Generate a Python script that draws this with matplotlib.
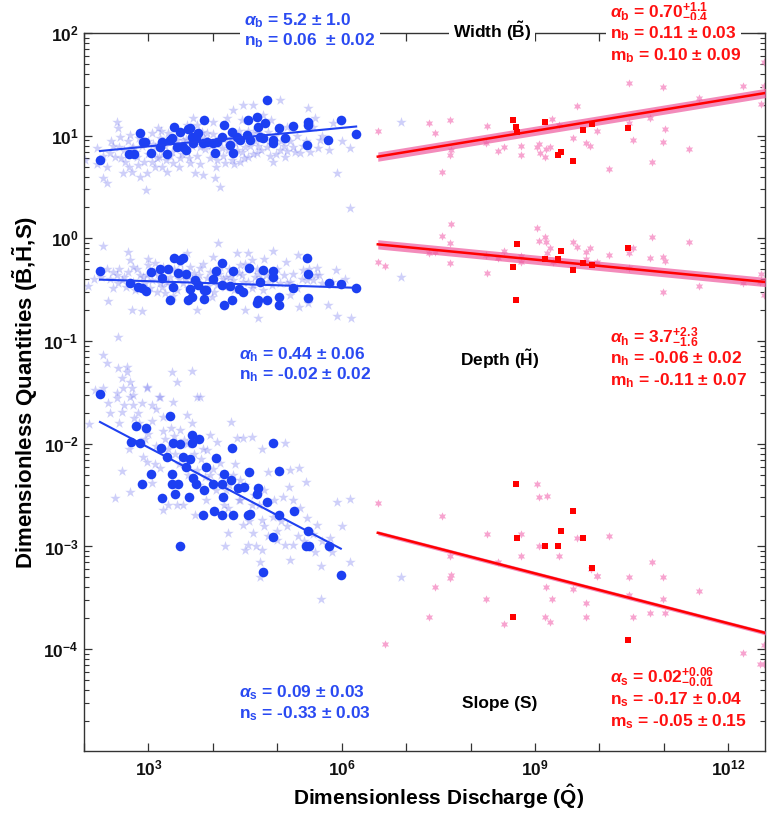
import numpy as np
import matplotlib
matplotlib.use('Agg')
import matplotlib.pyplot as plt
from matplotlib.ticker import FixedLocator, FuncFormatter, NullLocator

plt.rcParams['font.family'] = ['Liberation Sans', 'DejaVu Sans']
plt.rcParams['font.weight'] = 'bold'
plt.rcParams['mathtext.fontset'] = 'custom'
plt.rcParams['mathtext.rm'] = 'Liberation Sans:bold'
plt.rcParams['mathtext.it'] = 'Liberation Sans:bold:italic'
plt.rcParams['mathtext.bf'] = 'Liberation Sans:bold'
plt.rcParams['mathtext.sf'] = 'Liberation Sans:bold'

# ---------------- data (log10 Q, log10 value) ----------------
width_circles = [(2.248,0.763),(2.704,0.822),(2.776,0.822),(2.870,1.023),(2.911,0.942),(2.947,0.942),
    (3.035,0.835),(3.180,0.893),(3.206,0.942),(3.294,0.822),(3.335,0.958),(3.361,0.974),
    (3.403,1.088),(3.439,0.893),(3.491,1.039),(3.542,0.893),(3.584,0.861),(3.620,1.062),
    (3.646,1.072),(3.672,0.991),(3.698,0.926),(3.739,0.974),(3.775,1.023),(3.853,0.926),
    (3.863,1.153),(3.905,0.942),(3.998,0.932),(4.034,0.835),(4.060,0.942),(4.138,0.984),
    (4.179,1.104),(4.267,0.909),(4.293,1.039),(4.319,0.828),(4.381,0.991),(4.422,0.958),
    (4.526,1.007),(4.552,1.153),(4.578,0.958),(4.681,1.185),(4.707,1.088),(4.733,0.991),
    (4.774,0.974),(4.811,1.120),(4.847,1.348),(4.930,0.926),(4.940,0.958),(5.033,1.072),
    (5.121,0.974),(5.240,1.094),(5.458,0.909),(5.483,1.137),(5.483,1.104),(5.794,0.958),
    (5.986,1.153),(6.224,1.017)]

width_stars = [(2.016,0.763),(2.300,0.585),(2.352,0.536),(2.507,1.137),(2.533,1.072),(2.559,0.991),
    (2.549,0.893),(2.481,0.796),(2.611,0.633),(2.637,0.747),(2.714,1.007),(2.740,0.650),(2.766,0.893),
    (2.844,0.715),(2.870,0.601),(2.958,0.471),(2.973,0.633),(3.051,1.023),(3.051,0.747),(3.102,0.893),
    (3.154,1.072),(3.170,0.796),(3.206,0.698),(3.294,0.650),(3.309,1.023),(3.361,0.844),(3.387,0.731),
    (3.491,0.780),(3.542,0.958),(3.605,0.844),(3.646,0.731),(3.698,1.169),(3.724,0.633),(3.750,1.104),
    (3.801,0.893),(3.853,0.617),(3.915,1.023),(3.956,0.780),(4.008,1.137),(4.034,0.585),(4.060,0.763),
    (4.112,0.504),(4.138,0.877),(4.189,0.731),(4.215,1.169),(4.293,0.763),(4.319,1.250),(4.371,0.861),
    (4.422,0.747),(4.474,1.299),(4.500,0.893),(4.552,0.796),(4.629,1.299),(4.681,0.828),(4.707,1.023),
    (4.785,1.201),(4.836,0.893),(4.940,0.747),(5.043,1.348),(5.043,0.861),(5.121,0.796),(5.147,1.088),
    (5.276,0.844),(5.354,0.828),(5.473,1.266),(5.509,0.844),(5.587,1.169),(5.639,0.877),(5.665,0.958),
    (5.923,0.633),(6.130,0.877),(2.197,0.877),(2.404,0.828),(2.818,0.796),(3.232,0.844),(3.439,0.958),
    (3.827,1.039),(4.215,0.942),(4.629,1.023),(4.862,1.039),(5.251,0.893),(5.561,1.088),(5.872,1.120),
    (6.918,1.130),(2.450,0.900),(2.620,0.860),(2.680,0.950),(2.800,0.840),(2.900,0.900),(2.990,0.820),
    (3.070,0.920),(3.130,0.780),(3.250,0.900),(3.340,0.800),(3.450,0.880),(3.520,0.820),(3.580,0.970),
    (3.670,0.900),(3.760,0.800),(3.880,0.870),(3.930,0.950),(4.020,0.830),(4.100,0.970),(4.240,0.860),
    (4.350,0.930),(4.450,0.840),(4.580,0.900),(4.660,0.950),(4.750,0.860),(4.900,0.920),(4.980,0.820),
    (5.100,0.900),(5.200,0.950),(5.400,0.900),
    (2.30,0.80),(2.36,0.70),(2.42,0.95),(2.58,0.78),(2.70,0.70),(2.74,0.88),(2.85,0.98),(2.93,0.74),
    (3.00,0.95),(3.10,0.70),(3.18,0.98),(3.28,0.76),(3.38,0.95),(3.47,0.70),(3.56,0.88),(3.63,0.78),
    (3.72,0.96),(3.80,0.72),(3.86,0.98),(3.97,0.90),(4.05,0.70),(4.16,0.80),(4.28,0.98),(4.33,0.72),
    (4.40,1.05),(4.48,0.78),(4.55,1.05),(4.62,0.82),(4.70,0.90),(4.80,0.98),(4.88,0.80),(4.96,1.00),
    (5.05,0.95),(5.15,0.85),(5.30,1.00),(5.45,0.95),(5.70,1.00),(5.80,0.86),(6.00,0.95),(3.20,1.05),
    (3.60,1.10),(4.00,1.02),(4.45,1.15),(4.90,1.15),(2.20,0.72)]

depth_circles = [(2.248,-0.318),(2.714,-0.438),(2.844,-0.470),(2.895,-0.486),(2.958,-0.509),(3.040,-0.324),
    (3.180,-0.301),(3.206,-0.389),(3.299,-0.301),(3.335,-0.600),(3.377,-0.477),(3.403,-0.194),
    (3.465,-0.340),(3.491,-0.211),(3.532,-0.194),(3.584,-0.347),(3.620,-0.600),(3.646,-0.496),
    (3.672,-0.568),(3.724,-0.405),(3.775,-0.454),(3.863,-0.594),(3.863,-0.503),(3.894,-0.503),
    (4.008,-0.399),(4.045,-0.318),(4.138,-0.236),(4.143,-0.454),(4.179,-0.649),(4.267,-0.464),
    (4.293,-0.600),(4.319,-0.318),(4.412,-0.496),(4.474,-0.519),(4.562,-0.292),(4.681,-0.633),
    (4.707,-0.600),(4.733,-0.421),(4.785,-0.308),(4.836,-0.600),(4.940,-0.314),(4.940,-0.373),
    (5.033,-0.568),(5.033,-0.649),(5.251,-0.486),(5.458,-0.194),(5.483,-0.347),(5.483,-0.584),
    (5.804,-0.438),(5.986,-0.448),(6.224,-0.486)]

depth_stars = [(2.067,-0.464),(2.300,-0.074),(2.378,-0.607),(2.455,-0.324),(2.533,-0.438),(2.585,-0.405),
    (2.678,-0.129),(2.688,-0.324),(2.714,-0.211),(2.740,-0.697),(2.766,-0.275),(2.792,-0.503),
    (2.895,-0.707),(2.947,-0.438),(2.999,-0.259),(3.051,-0.405),(3.102,-0.243),(3.128,-0.519),
    (3.206,-0.470),(3.258,-0.535),(3.335,-0.373),(3.439,-0.503),(3.491,-0.243),(3.605,-0.146),
    (3.646,-0.275),(3.750,-0.697),(3.801,-0.292),(3.905,-0.389),(3.982,-0.568),(4.086,-0.048),
    (4.112,-0.275),(4.189,-0.470),(4.267,-0.373),(4.371,-0.146),(4.422,-0.259),(4.474,-0.421),
    (4.500,-0.697),(4.552,-0.146),(4.604,-0.211),(4.655,-0.373),(4.707,-0.779),(4.785,-0.503),
    (4.862,-0.421),(4.930,-0.120),(5.043,-0.438),(5.137,-0.227),(5.199,-0.551),(5.328,-0.162),
    (5.344,-0.665),(5.406,-0.308),(5.483,-0.633),(5.561,-0.405),(5.613,-0.292),(5.794,-0.649),
    (5.913,-0.308),(5.923,-0.756),(6.141,-0.772),(2.259,-0.373),(2.507,-0.357),(2.870,-0.357),
    (3.180,-0.438),(3.542,-0.438),(3.801,-0.438),(4.060,-0.454),(4.319,-0.405),(4.629,-0.454),
    (4.888,-0.324),(5.147,-0.438),(5.458,-0.405),(5.690,-0.438),(6.130,0.293),(6.918,-0.373),
    (2.400,-0.400),(2.620,-0.380),(2.760,-0.420),(2.980,-0.360),(3.080,-0.330),(3.300,-0.420),
    (3.400,-0.300),(3.580,-0.400),(3.700,-0.340),(3.950,-0.330),(4.200,-0.380),(4.400,-0.340),
    (4.540,-0.420),(4.700,-0.350),(4.960,-0.400),(5.250,-0.350),(5.600,-0.360),
    (2.15,-0.40),(2.35,-0.30),(2.45,-0.48),(2.55,-0.30),(2.65,-0.47),(2.82,-0.30),(2.92,-0.38),
    (3.02,-0.48),(3.15,-0.35),(3.22,-0.28),(3.28,-0.42),(3.38,-0.56),(3.47,-0.40),(3.52,-0.32),
    (3.62,-0.48),(3.68,-0.40),(3.78,-0.36),(3.85,-0.25),(3.92,-0.46),(4.02,-0.52),(4.10,-0.35),
    (4.15,-0.40),(4.25,-0.30),(4.33,-0.50),(4.45,-0.36),(4.50,-0.25),(4.60,-0.48),(4.68,-0.30),
    (4.75,-0.40),(4.82,-0.36),(4.92,-0.45),(5.00,-0.30),(5.10,-0.36),(5.20,-0.42),(5.30,-0.48),
    (5.38,-0.40),(5.50,-0.30),(5.65,-0.36),(5.85,-0.42),(6.05,-0.40),(3.00,-0.20),(4.00,-0.18),
    (4.80,-0.20)]

slope_circles = [(2.248,-1.515),(2.807,-1.827),(2.958,-1.850),(2.725,-1.980),(2.870,-1.996),(3.190,-2.041),
    (3.335,-1.726),(3.294,-2.126),(3.377,-1.996),(3.491,-2.006),(3.035,-2.298),(2.906,-2.395),
    (3.216,-2.531),(3.371,-2.295),(3.371,-2.392),(3.465,-2.392),(3.413,-2.489),(3.630,-2.515),
    (3.542,-2.132),(3.646,-2.148),(3.672,-1.996),(3.682,-1.915),(3.791,-1.957),(3.584,-2.223),
    (3.698,-2.330),(3.739,-2.392),(3.863,-2.450),(3.889,-2.229),(3.853,-2.694),(3.491,-2.992),
    (3.998,-2.392),(4.024,-2.652),(4.045,-2.142),(4.138,-2.392),(4.143,-2.694),(4.153,-2.515),
    (4.174,-2.295),(4.293,-2.041),(4.278,-2.353),(4.319,-2.694),(4.386,-2.434),(4.490,-2.424),
    (4.557,-2.272),(4.552,-2.694),(4.578,-2.685),(4.681,-2.489),(4.707,-2.434),(4.836,-2.564),
    (4.940,-1.996),(4.940,-2.911),(5.028,-2.694),(5.033,-2.262),(5.256,-2.652),(5.483,-2.846),
    (5.447,-2.992),(5.488,-2.992),(5.804,-2.992),(4.785,-3.252),(5.986,-3.278)]

slope_stars = [(2.533,-0.957),(2.300,-1.136),(2.352,-1.217),(2.533,-1.265),(2.663,-1.249),(2.663,-1.298),
    (2.585,-1.363),(2.714,-1.395),(2.740,-1.459),(2.973,-1.459),(3.361,-1.298),(3.449,-1.395),
    (3.672,-1.288),(2.171,-1.475),(2.300,-1.459),(2.507,-1.508),(3.180,-1.540),(3.750,-1.540),
    (2.766,-1.524),(2.083,-1.808),(2.378,-1.606),(2.507,-1.558),(2.611,-1.460),(2.585,-1.687),
    (2.714,-1.541),(2.766,-1.623),(2.844,-1.704),(2.973,-1.444),(3.051,-1.623),(3.118,-1.665),
    (3.170,-1.541),(3.232,-1.736),(3.387,-1.590),(3.491,-1.866),(3.594,-1.720),(3.672,-1.801),
    (3.801,-1.541),(3.956,-1.915),(4.060,-1.980),(4.278,-1.785),(4.371,-1.947),(4.474,-1.947),
    (4.604,-1.931),(4.759,-2.051),(5.121,-1.996),(5.344,-2.239),(5.199,-2.255),(5.189,-2.418),
    (5.447,-2.369),(2.481,-2.531),(2.714,-2.467),(2.585,-2.262),(2.973,-2.174),(3.051,-2.385),
    (2.911,-2.126),(3.180,-2.239),(3.309,-2.596),(3.232,-2.645),(3.542,-2.596),(3.724,-2.694),
    (3.750,-2.255),(3.879,-2.320),(3.915,-2.064),(4.112,-2.191),(4.241,-2.629),(4.241,-2.872),
    (4.422,-2.353),(4.474,-2.791),(4.552,-2.985),(4.629,-2.872),(4.759,-2.739),(4.733,-3.148),
    (4.666,-2.992),(4.759,-3.031),(4.862,-2.272),(4.940,-2.710),(5.095,-2.515),(5.121,-2.985),
    (5.199,-3.132),(5.251,-2.985),(5.354,-2.629),(5.458,-2.726),(5.587,-3.051),(5.613,-2.791),
    (5.675,-3.187),(5.820,-2.921),(5.923,-2.564),(6.130,-2.541),(6.130,-3.148),(4.189,-2.992),
    (4.500,-3.031),(4.992,-2.937),(4.733,-3.294),(5.675,-3.515),(6.918,-3.301),
    (3.000,-1.900),(3.250,-1.950),(3.420,-2.100),(3.600,-2.000),(3.820,-2.150),(4.000,-2.250),
    (4.200,-2.450),(4.400,-2.550),(4.600,-2.600),(4.800,-2.800),(5.000,-2.850),(3.350,-1.850),
    (3.900,-2.550),(4.350,-2.200),(2.850,-1.800),
    (2.40,-1.70),(2.55,-1.80),(2.62,-1.62),(2.78,-1.75),(2.90,-1.60),(2.95,-1.95),(3.05,-1.78),
    (3.12,-2.02),(3.22,-1.88),(3.30,-2.05),(3.40,-1.92),(3.48,-2.20),(3.55,-1.96),(3.62,-2.30),
    (3.70,-2.10),(3.78,-2.40),(3.85,-2.05),(3.95,-2.30),(4.05,-2.45),(4.12,-2.30),(4.18,-2.60),
    (4.25,-2.40),(4.32,-2.30),(4.42,-2.55),(4.50,-2.40),(4.56,-2.75),(4.64,-2.50),(4.72,-2.60),
    (4.80,-2.45),(4.86,-2.90),(4.95,-2.55),(5.05,-2.75),(5.15,-2.80),(5.25,-2.55),(5.32,-2.90),
    (5.42,-2.95),(5.55,-2.88),(5.70,-2.95),(5.85,-3.05),(6.00,-2.80),(3.10,-2.20),(3.45,-2.60),
    (2.70,-2.05)]

red_sq_logq = [8.651, 8.698, 8.724, 9.148, 9.355, 9.396, 9.583, 9.748, 9.888, 10.437]
red_sq_width = [1.153, 1.088, 1.039, 1.130, 0.812, 0.838, 0.754, 1.059, 1.117, 1.078]
red_sq_depth = [-0.279, -0.600, -0.058, -0.201, -0.201, -0.123, -0.305, -0.243, -0.262, -0.097]
red_sq_slope = [-3.690, -2.392, -2.914, -2.992, -2.992, -2.846, -2.652, -2.914, -3.213, -3.911]

pink_width = [(6.560,1.049),(7.357,1.127),(7.450,1.029),(7.683,1.153),(7.693,0.861),(7.683,0.812),
    (7.554,0.650),(8.250,1.098),(8.242,0.932),(8.424,0.854),(8.522,0.893),(8.781,0.900),(8.781,0.812),
    (9.029,0.893),(9.066,0.919),(9.071,0.835),(9.159,0.796),(9.169,0.867),(9.236,0.893),(9.262,1.159),
    (9.365,1.104),(9.588,0.974),(9.650,1.292),(9.790,0.926),(9.857,0.903),(9.961,1.049),(10.142,0.676),
    (10.453,1.516),(10.453,1.120),(10.520,0.955),(10.789,1.169),(10.815,0.747),(10.986,1.471),
    (10.986,0.942),(11.022,1.065),(11.385,0.874),(11.540,1.364),(12.228,1.484),(12.513,1.305),
    (12.560,1.721),(12.560,1.484)]

pink_depth = [(6.560,-0.227),(6.674,-0.266),(7.357,-0.146),(7.450,-0.136),(7.559,0.026),(7.699,0.137),
    (7.683,-0.048),(7.683,-0.236),(8.242,-0.162),(8.252,-0.334),(8.424,-0.194),(8.522,-0.120),
    (8.781,-0.169),(8.781,-0.227),(9.029,0.098),(9.066,-0.025),(9.159,0.017),(9.169,-0.035),
    (9.236,-0.097),(9.185,-0.146),(9.273,-0.227),(9.588,-0.035),(9.650,-0.081),(9.790,-0.136),
    (9.790,-0.204),(9.857,-0.097),(9.961,-0.230),(10.142,-0.165),(10.453,-0.139),(10.453,-0.292),
    (10.520,-0.097),(10.789,-0.194),(10.815,0.017),(10.986,-0.185),(11.022,-0.217),(10.986,-0.519),
    (11.385,-0.032),(11.540,-0.464),(12.228,-0.438),(12.513,-0.347),(12.560,-0.551),(12.498,-0.421)]

pink_slope = [(6.560,-2.580),(7.564,-2.700),(7.683,-3.090),(7.699,-3.278),(8.252,-2.879),(8.424,-3.148),
    (8.781,-2.882),(8.781,-3.090),(9.029,-2.392),(9.066,-2.515),(9.185,-2.509),(9.066,-2.992),
    (9.365,-3.090),(9.650,-2.914),(9.867,-3.223),(9.961,-3.287),(10.142,-2.898),(10.453,-3.293),
    (10.815,-3.148),(10.986,-3.293),(6.674,-3.950),(7.357,-3.690),(7.450,-3.392),(7.683,-3.310),
    (8.242,-3.515),(8.522,-3.758),(9.148,-3.690),(9.236,-3.732),(9.174,-3.392),(9.262,-3.515),
    (9.588,-3.418),(9.790,-3.554),(9.790,-3.690),(9.961,-3.284),(10.453,-3.473),
    (10.520,-3.690),(10.789,-3.651),(10.986,-3.515),(11.022,-3.651),(11.540,-3.434),(12.228,-4.041),
    (12.498,-4.145),(12.560,-3.960),(12.560,-4.145)]

# fitted power laws  y = coef * Q^exp
blue_fit_coef = [5.2, 0.44, 0.09]
blue_fit_exp = [0.06, -0.02, -0.33]
red_fit_coef = [1.32, 2.20, 0.0157]
red_fit_exp = [0.103, -0.061, -0.162]
red_band_dex = [0.045, 0.045, 0.02]

# ---------------- figure ----------------
fig = plt.figure(figsize=(7.71, 8.15), dpi=100)
ax = fig.add_axes([84/771, 1-751/815, 681/771, 718/815])
ax.set_xscale('log')
ax.set_yscale('log')
XMIN, XMAX = 1e2, 10**12.57
ax.set_xlim(XMIN, XMAX)
ax.set_ylim(1.02e-5, 1e2)

def unpack(pairs):
    a = np.array(pairs)
    return 10**a[:, 0], 10**a[:, 1]

STAR_C = '#6b70ee'
CIRC_C = '#1c3ff2'
PINK_C = '#f7a3cf'
BLUE_LINE = '#1f40f0'

for stars in [width_stars, depth_stars, slope_stars]:
    xs, ys = unpack(stars)
    ax.scatter(xs, ys, marker='*', s=62, color=STAR_C, alpha=0.33, linewidths=0, zorder=2)
for circs in [width_circles, depth_circles, slope_circles]:
    xc, yc = unpack(circs)
    ax.scatter(xc, yc, marker='o', s=48, color=CIRC_C, linewidths=0, zorder=3)

for pink in [pink_width, pink_depth, pink_slope]:
    xp, yp = unpack(pink)
    ax.scatter(xp, yp, marker=(6, 1, 0), s=36, color=PINK_C, linewidths=0, zorder=2)

# blue fits
for circs, c, e in zip([width_circles, depth_circles, slope_circles], blue_fit_coef, blue_fit_exp):
    xc, _ = unpack(circs)
    qq = np.logspace(np.log10(xc.min()), np.log10(xc.max()), 50)
    ax.plot(qq, c * qq**e, color=BLUE_LINE, lw=1.5, zorder=4)

# red fits with bands
for pink, c, e, d in zip([pink_width, pink_depth, pink_slope], red_fit_coef, red_fit_exp, red_band_dex):
    xp, _ = unpack(pink)
    qq = np.logspace(np.log10(xp.min()), np.log10(XMAX) + 0.05, 80)
    yy = c * qq**e
    ax.fill_between(qq, yy * 10**(-d), yy * 10**d, color='#ee5a9e', alpha=0.7, linewidth=0, zorder=4)
    ax.plot(qq, yy, color='#ff0000', lw=1.8, zorder=5)

qs = 10**np.array(red_sq_logq)
for ysq in [red_sq_width, red_sq_depth, red_sq_slope]:
    ax.scatter(qs, 10**np.array(ysq), marker='s', s=22, color='#ff0000', linewidths=0, zorder=6)

# ---------------- axes styling ----------------
for sp in ax.spines.values():
    sp.set_color('#333333')
    sp.set_linewidth(1.0)
ax.xaxis.set_major_locator(FixedLocator([10.0**k for k in range(2, 13)]))
ax.xaxis.set_minor_locator(NullLocator())
ax.xaxis.set_major_formatter(FuncFormatter(
    lambda v, p: (r'$\mathrm{10^{%d}}$' % round(np.log10(v))) if round(np.log10(v)) % 3 == 0 else ''))
ax.yaxis.set_major_locator(FixedLocator([10.0**k for k in range(-5, 3)]))
ax.yaxis.set_minor_locator(FixedLocator([m * 10.0**k for k in range(-6, 2) for m in range(2, 10)]))
ax.yaxis.set_major_formatter(FuncFormatter(
    lambda v, p: (r'$\mathrm{10^{%d}}$' % round(np.log10(v))) if round(np.log10(v)) > -5 else ''))
ax.tick_params(which='both', direction='in', top=True, right=True, colors='#333333',
               labelcolor='#111111', labelsize=12.5)
ax.tick_params(which='major', length=6, width=0.9)
ax.tick_params(which='minor', length=3.5, width=0.8)
ax.tick_params(axis='x', pad=5.5)
ax.tick_params(axis='y', pad=4)

ax.set_xlabel(r'Dimensionless Discharge ($\hat{\mathrm{Q}}$)', fontsize=15, fontweight='bold')
ax.set_ylabel(r'Dimensionless Quantities ($\tilde{\mathrm{B}}$,$\tilde{\mathrm{H}}$,S)', fontsize=16, fontweight='bold')
ax.xaxis.set_label_coords(0.52, -0.045)
ax.yaxis.set_label_coords(-0.064, 0.5)

BLUE_T = '#2a4af2'
RED_T = '#ff1010'
FS = 12.5
T = ax.transAxes
wb = dict(facecolor='white', edgecolor='none', pad=3)

def put(x, y, s, color, box=False, ha='left'):
    ax.text(x, y, s, transform=T, color=color, fontsize=FS, fontweight='bold', ha=ha,
            va='baseline', zorder=10, clip_on=False, bbox=wb if box else None)

# Width block
put(0.235, 1.0111, r'$\alpha_\mathrm{b}$ = 5.2 $\pm$ 1.0', BLUE_T, box=True)
put(0.235, 0.9833, r'n$_\mathrm{b}$ = 0.06  $\pm$ 0.02', BLUE_T, box=True)
put(0.599, 0.993, r'Width ($\tilde{\mathrm{B}}$)', 'black', box=True, ha='center')
put(0.7724, 1.0209, r'$\alpha_\mathrm{b}$ = 0.70$^{+1.1}_{-0.4}$', RED_T, box=True)
put(0.7724, 0.9930, r'n$_\mathrm{b}$ = 0.11 $\pm$ 0.03', RED_T, box=True)
put(0.7724, 0.9624, r'm$_\mathrm{b}$ = 0.10 $\pm$ 0.09', RED_T)

# Depth block
put(0.2276, 0.546, r'$\alpha_\mathrm{h}$ = 0.44 $\pm$ 0.06', BLUE_T)
put(0.2276, 0.518, r'n$_\mathrm{h}$ = -0.02 $\pm$ 0.02', BLUE_T)
put(0.611, 0.536, r'Depth ($\tilde{\mathrm{H}}$)', 'black', ha='center')
put(0.7724, 0.568, r'$\alpha_\mathrm{h}$ = 3.7$^{+2.3}_{-1.6}$', RED_T)
put(0.7724, 0.540, r'n$_\mathrm{h}$ = -0.06 $\pm$ 0.02', RED_T)
put(0.7724, 0.510, r'm$_\mathrm{h}$ = -0.11 $\pm$ 0.07', RED_T)

# Slope block
put(0.2276, 0.0752, r'$\alpha_\mathrm{s}$ = 0.09 $\pm$ 0.03', BLUE_T)
put(0.2276, 0.046, r'n$_\mathrm{s}$ = -0.33 $\pm$ 0.03', BLUE_T)
put(0.611, 0.060, r'Slope (S)', 'black', ha='center')
put(0.7724, 0.0947, r'$\alpha_\mathrm{s}$ = 0.02$^{+0.06}_{-0.01}$', RED_T)
put(0.7724, 0.0655, r'n$_\mathrm{s}$ = -0.17 $\pm$ 0.04', RED_T)
put(0.7724, 0.0348, r'm$_\mathrm{s}$ = -0.05 $\pm$ 0.15', RED_T)

fig.savefig('out.png', dpi=100)
